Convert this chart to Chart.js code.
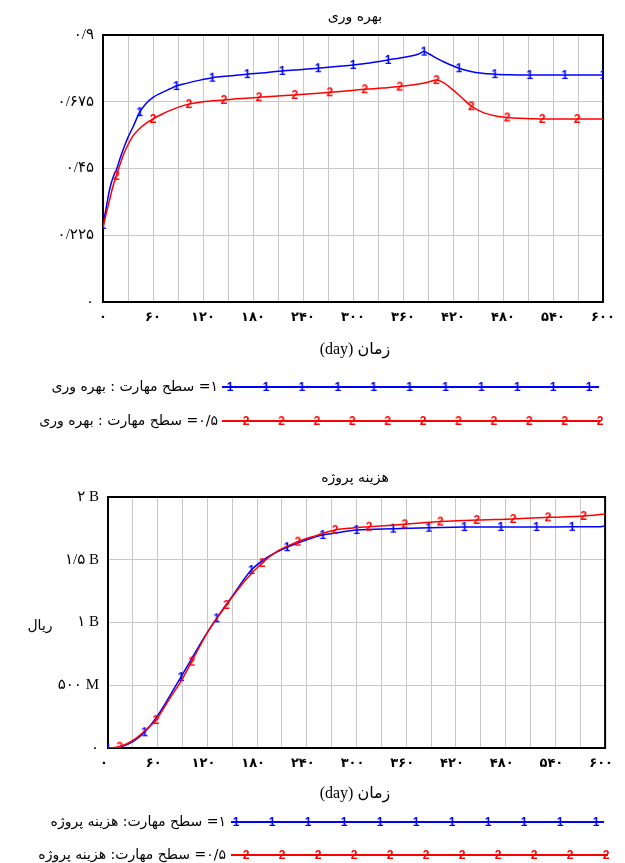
<!DOCTYPE html>
<html><head><meta charset="utf-8">
<script src="https://cdn.jsdelivr.net/npm/chart.js@4/dist/chart.umd.min.js"></script>
<style>html,body{margin:0;padding:0;background:#fff;} canvas{display:block;}</style>
</head><body>
<canvas id="c1" width="625" height="440"></canvas>
<canvas id="c2" width="625" height="423"></canvas>
<script>
// ---------- data ----------
const xTickLabels = ['۰','۶۰','۱۲۰','۱۸۰','۲۴۰','۳۰۰','۳۶۰','۴۲۰','۴۸۰','۵۴۰','۶۰۰'];
const xGridDays = [0,30,60,90,120,150,180,210,240,270,300,330,360,390,420,450,480,510,540,570,600];

// Chart 1: productivity
const prodTitle = 'بهره وری';
const prodTicks = [0, 0.225, 0.45, 0.675, 0.9];
const prodTickLabels = ['۰','۰/۲۲۵','۰/۴۵','۰/۶۷۵','۰/۹'];
const prodLegend = ['۱= سطح مهارت : بهره وری', '۰/۵= سطح مهارت : بهره وری'];

const prodDaysA = [0,4,8,12,16,20,25,30,36,44,52,60,70,80,88,100,115,131,150,173,195,215,240,258,280,300,320,342,365,378,385,392,400,410,427,440,455,470,490,512,554,600];
const prodA = [0.26,0.32,0.38,0.42,0.445,0.48,0.52,0.555,0.59,0.64,0.67,0.69,0.705,0.718,0.728,0.737,0.747,0.756,0.762,0.768,0.773,0.779,0.784,0.788,0.794,0.799,0.806,0.816,0.827,0.835,0.844,0.835,0.822,0.808,0.788,0.778,0.771,0.768,0.766,0.765,0.765,0.765];
const prodMarkA = [0,44,88,131,173,215,258,300,342,385,427,470,512,554,600];

const prodDaysB = [0,4,8,12,16,20,25,30,36,44,52,60,70,80,90,103,120,145,165,187,210,230,250,272,295,314,335,356,375,390,400,408,420,430,442,455,470,485,500,527,569,600];
const prodB = [0.25,0.30,0.345,0.39,0.425,0.46,0.50,0.53,0.56,0.585,0.603,0.617,0.632,0.645,0.656,0.667,0.675,0.681,0.686,0.690,0.694,0.698,0.702,0.707,0.712,0.717,0.721,0.726,0.733,0.741,0.748,0.740,0.715,0.69,0.66,0.64,0.628,0.622,0.619,0.617,0.617,0.617];
const prodMarkB = [16,60,103,145,187,230,272,314,356,400,442,485,527,569];

// Chart 2: project cost (billion rial)
const costTitle = 'هزینه پروژه';
const costTicks = [0, 0.5, 1, 1.5, 2];
const costTickLabels = ['۰','۵۰۰ M','۱ B','۱/۵ B','۲ B'];
const costLegend = ['۱= سطح مهارت: هزینه پروژه', '۰/۵= سطح مهارت: هزینه پروژه'];
const costUnit = 'ریال';

const costDaysA = [0,10,20,30,44,60,75,88,100,115,131,150,173,195,216,240,259,280,300,344,387,430,474,517,560,595,600];
const costA = [0,0.003,0.02,0.05,0.125,0.26,0.42,0.565,0.70,0.87,1.033,1.21,1.418,1.53,1.60,1.66,1.697,1.72,1.737,1.748,1.755,1.760,1.761,1.761,1.762,1.763,1.772];
const costMarkA = [0,44,88,131,173,216,259,300,344,387,430,474,517,560];

const costDaysB = [0,14,30,45,58,75,88,101,120,143,165,186,205,229,250,274,295,315,358,401,445,489,531,574,600];
const costB = [0,0.01,0.06,0.14,0.223,0.40,0.53,0.688,0.92,1.139,1.33,1.474,1.57,1.644,1.69,1.737,1.753,1.763,1.783,1.804,1.817,1.825,1.838,1.849,1.865];
const costMarkB = [14,58,101,143,186,229,274,315,358,401,445,489,531,574];

const xTitle = 'زمان (day)';

// ---------- styling ----------
const BLUE = '#0000ff', RED = '#ff0000', GRID = '#c8c8c8';
const FA = "'DejaVu Sans', sans-serif";
const SERIF = "'Liberation Serif', 'DejaVu Sans', serif";

function glyph(ch, color) {
  const c = document.createElement('canvas');
  c.width = 10; c.height = 14;
  const g = c.getContext('2d');
  g.fillStyle = color;
  g.font = 'bold 12px "Liberation Sans", Arial, sans-serif';
  g.textAlign = 'center'; g.textBaseline = 'middle';
  g.fillText(ch, 5, 7.5);
  return c;
}
const g1 = glyph('1', BLUE), g2 = glyph('2', RED);

function series(days, vals, marks, color, img) {
  return {
    data: days.map((d, i) => ({x: d, y: vals[i]})),
    borderColor: color, borderWidth: 1.5,
    pointStyle: img,
    pointRadius: days.map(d => marks.includes(d) ? 3 : 0),
    pointHoverRadius: 0,
    cubicInterpolationMode: 'monotone',
    fill: false
  };
}

const decor = {
  id: 'decor',
  beforeDatasetsDraw(chart, args, o) {
    const {ctx, chartArea: a} = chart;
    ctx.save();
    ctx.strokeStyle = '#000'; ctx.lineWidth = 2;
    ctx.strokeRect(a.left, a.top, a.right - a.left, a.bottom - a.top);
    ctx.restore();
  },
  afterDraw(chart, args, o) {
    const ctx = chart.ctx;
    ctx.save();
    ctx.fillStyle = '#000';
    ctx.direction = 'rtl';
    ctx.textBaseline = 'middle';
    ctx.textAlign = 'center';
    ctx.font = '14px ' + FA;
    ctx.fillText(o.title, o.titleX, o.titleY);
    ctx.font = '16px ' + SERIF;
    ctx.fillText(xTitle, o.titleX, o.xTitleY);
    if (o.unit) { ctx.font = '14px ' + FA; ctx.fillText(o.unit, o.unitX, o.unitY); }
    o.legend.forEach((L) => {
      ctx.textAlign = 'right';
      ctx.font = '14px ' + FA;
      ctx.fillStyle = '#000';
      ctx.fillText(L.text, L.textRight, L.y);
      ctx.strokeStyle = L.color; ctx.lineWidth = 2;
      ctx.beginPath(); ctx.moveTo(L.x0, L.y); ctx.lineTo(L.x1, L.y); ctx.stroke();
      for (let k = 0; k < L.n; k++) {
        const mx = L.m0 + k * L.step;
        ctx.drawImage(L.img, mx - L.img.width / 2, L.y - L.img.height / 2);
      }
    });
    ctx.restore();
  }
};

function opts(cfg) {
  return {
    responsive: false, animation: false, events: [],
    layout: {padding: cfg.padding},
    plugins: {legend: {display: false}, title: {display: false}, tooltip: {enabled: false}, decor: cfg.decor},
    scales: {
      x: {
        type: 'linear', min: 0, max: 600,
        afterBuildTicks: s => { s.ticks = xGridDays.map(v => ({value: v})); },
        afterFit: s => { s.height = 30; },
        grid: {color: GRID, lineWidth: 1, drawTicks: false},
        border: {display: false},
        ticks: {autoSkip: false, maxRotation: 0, minRotation: 0, padding: 8, color: '#000', labelOffset: cfg.labelOffset || 0,
          font: {family: FA, size: 13, weight: 'bold'},
          callback: v => (v % 60 === 0 ? xTickLabels[v / 60] : '')}
      },
      y: {
        type: 'linear', min: 0, max: cfg.ymax,
        afterBuildTicks: s => { s.ticks = cfg.ticks.map(v => ({value: v})); },
        afterFit: s => { s.width = cfg.yWidth; },
        grid: {color: GRID, lineWidth: 1, drawTicks: false},
        border: {display: false},
        ticks: {padding: 9, color: '#000', font: {family: SERIF, size: 15},
          callback: (v, i) => cfg.labels[i]}
      }
    }
  };
}

new Chart(document.getElementById('c1'), {
  type: 'line',
  data: {datasets: [
    series(prodDaysB, prodB, prodMarkB, RED, g2),
    series(prodDaysA, prodA, prodMarkA, BLUE, g1)
  ]},
  options: opts({
    padding: {top: 35, left: 0, right: 22, bottom: 108},
    ymax: 0.9, ticks: prodTicks, labels: prodTickLabels, yWidth: 103,
    decor: {
      title: prodTitle, titleX: 355, titleY: 17, xTitleY: 350,
      legend: [
        {text: prodLegend[0], textRight: 218, y: 387, color: BLUE, x0: 222, x1: 599, img: g1, m0: 230, step: 35.9, n: 11},
        {text: prodLegend[1], textRight: 218, y: 421, color: RED, x0: 222, x1: 600, img: g2, m0: 246, step: 35.4, n: 11}
      ]
    }
  }),
  plugins: [decor]
});

new Chart(document.getElementById('c2'), {
  type: 'line',
  data: {datasets: [
    series(costDaysB, costB, costMarkB, RED, g2),
    series(costDaysA, costA, costMarkA, BLUE, g1)
  ]},
  options: opts({
    padding: {top: 57, left: 0, right: 15, bottom: 85},
    ymax: 2, ticks: costTicks, labels: costTickLabels, yWidth: 108, labelOffset: -4,
    decor: {
      title: costTitle, titleX: 355, titleY: 38, xTitleY: 354,
      unit: costUnit, unitX: 40, unitY: 186,
      legend: [
        {text: costLegend[0], textRight: 226, y: 382, color: BLUE, x0: 231, x1: 604, img: g1, m0: 236, step: 36, n: 11},
        {text: costLegend[1], textRight: 226, y: 415, color: RED, x0: 231, x1: 608, img: g2, m0: 246, step: 36, n: 11}
      ]
    }
  }),
  plugins: [decor]
});
</script>
</body></html>
